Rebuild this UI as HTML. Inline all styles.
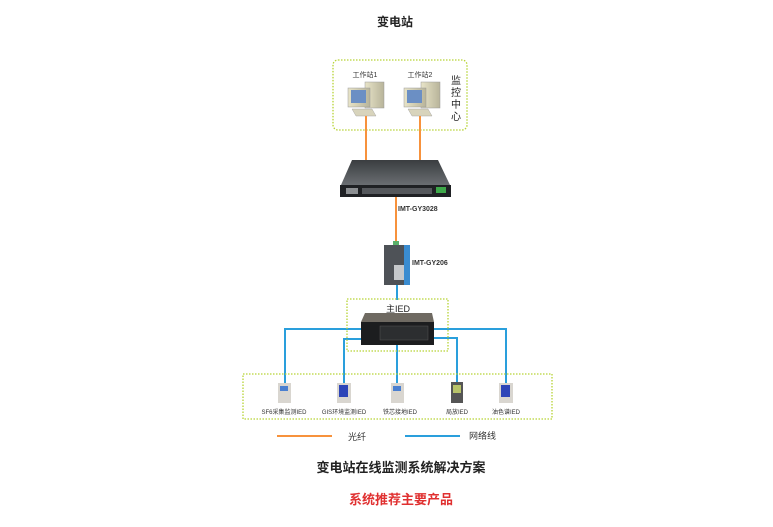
<!DOCTYPE html>
<html><head><meta charset="utf-8"><style>
body{margin:0;background:#fff;}
svg{display:block;}
text{font-family:"Liberation Sans","Noto Sans CJK SC",sans-serif;}
</style></head><body>
<svg width="773" height="527" viewBox="0 0 773 527" xmlns="http://www.w3.org/2000/svg">
<defs>
<linearGradient id="sw" x1="0" y1="0" x2="0" y2="1"><stop offset="0" stop-color="#3a3d40"/><stop offset="1" stop-color="#6a6e72"/></linearGradient>
<linearGradient id="pc" x1="0" y1="0" x2="1" y2="0"><stop offset="0" stop-color="#e8e4c8"/><stop offset="1" stop-color="#b8b49a"/></linearGradient>
</defs>
<text x="395" y="26" font-size="12" font-weight="bold" text-anchor="middle" fill="#222">变电站</text>
<rect x="333" y="60" width="134" height="70" rx="5" fill="none" stroke="#b6d334" stroke-width="1.3" stroke-dasharray="1.5,1.5"/>
<text x="365" y="77" font-size="7" text-anchor="middle" fill="#333">工作站1</text>
<text x="420" y="77" font-size="7" text-anchor="middle" fill="#333">工作站2</text>
<g font-size="10" fill="#222" text-anchor="middle">
<text x="456" y="84">监</text><text x="456" y="96">控</text><text x="456" y="108">中</text><text x="456" y="120">心</text></g>
<g id="pc1">
<rect x="365" y="82" width="19" height="26" fill="url(#pc)" stroke="#999" stroke-width="0.5"/>
<rect x="348" y="88" width="22" height="19" fill="url(#pc)" stroke="#999" stroke-width="0.5"/>
<rect x="351" y="90" width="15" height="13" fill="#6b8fc4"/>
<polygon points="352,109 372,109 376,116 356,116" fill="#d8d4bc" stroke="#999" stroke-width="0.4"/>
</g>
<use href="#pc1" x="56"/>
<g stroke="#f7923c" stroke-width="2">
<line x1="366" y1="116" x2="366" y2="161"/><line x1="420" y1="116" x2="420" y2="161"/>
<line x1="396" y1="197" x2="396" y2="244"/></g>
<polygon points="352,160 438,160 450,185 341,185" fill="url(#sw)"/>
<rect x="340" y="185" width="111" height="12" fill="#1f2124"/>
<g fill="#8c8f92"><rect x="346" y="188" width="12" height="6"/>
<rect x="362" y="188" width="70" height="6" fill="#55585c"/></g>
<rect x="436" y="187" width="10" height="6" fill="#3ea84a"/>
<text x="398" y="211" font-size="7" font-weight="bold" fill="#333">IMT-GY3028</text>
<rect x="393" y="241" width="6" height="4" fill="#5bb06a"/>
<rect x="384" y="245" width="20" height="40" fill="#4e5257"/>
<rect x="404" y="245" width="6" height="40" fill="#3a8cd0"/>
<rect x="394" y="265" width="10" height="15" fill="#c5c8cb"/>
<text x="412" y="265" font-size="7" font-weight="bold" fill="#333">IMT-GY206</text>
<g stroke="#2a9fdc" stroke-width="2" fill="none">
<line x1="397" y1="285" x2="397" y2="300"/>
<polyline points="362,329 285,329 285,383"/>
<polyline points="362,339 344,339 344,383"/>
<line x1="397" y1="345" x2="397" y2="383"/>
<polyline points="433,338 457,338 457,383"/>
<polyline points="433,329 506,329 506,383"/>
<line x1="405" y1="436" x2="460" y2="436"/>
</g>
<rect x="347" y="299" width="101" height="52" fill="none" stroke="#b6d334" stroke-width="1.3" stroke-dasharray="1.5,1.5"/>
<text x="398" y="312" font-size="9" text-anchor="middle" fill="#222">主IED</text>
<polygon points="365,313 432,313 434,322 361,322" fill="#6f6a62"/>
<rect x="361" y="322" width="73" height="23" fill="#1c1d1f"/>
<rect x="380" y="326" width="48" height="14" fill="#2c2e30" stroke="#555" stroke-width="0.5"/>
<rect x="243" y="374" width="309" height="45" fill="none" stroke="#b6d334" stroke-width="1.3" stroke-dasharray="1.5,1.5"/>
<g>
<rect x="278" y="383" width="13" height="20" fill="#d9d6d0"/><rect x="280" y="386" width="8" height="5" fill="#4a7fd0"/>
<rect x="337" y="383" width="14" height="20" fill="#d9d6d0"/><rect x="339" y="385" width="9" height="12" fill="#2d45b8"/>
<rect x="391" y="383" width="13" height="20" fill="#d9d6d0"/><rect x="393" y="386" width="8" height="5" fill="#4a7fd0"/>
<rect x="451" y="382" width="12" height="21" fill="#555"/><rect x="453" y="385" width="8" height="8" fill="#b8c36a"/>
<rect x="499" y="383" width="14" height="20" fill="#d9d6d0"/><rect x="501" y="385" width="9" height="12" fill="#2d45b8"/>
</g>
<g font-size="6" fill="#333" text-anchor="middle">
<text x="284" y="414">SF6采集监测IED</text><text x="344" y="414">GIS环境监测IED</text>
<text x="400" y="414">铁芯接地IED</text><text x="457" y="414">局放IED</text><text x="506" y="414">油色谱IED</text></g>
<line x1="277" y1="436" x2="332" y2="436" stroke="#f7923c" stroke-width="2"/>
<text x="348" y="440" font-size="9" fill="#333">光纤</text>
<text x="469" y="439" font-size="9" fill="#333">网络线</text>
<text x="401" y="472" font-size="13" font-weight="bold" text-anchor="middle" fill="#222">变电站在线监测系统解决方案</text>
<text x="401" y="504" font-size="13" font-weight="bold" text-anchor="middle" fill="#e03030">系统推荐主要产品</text>
</svg>
</body></html>
